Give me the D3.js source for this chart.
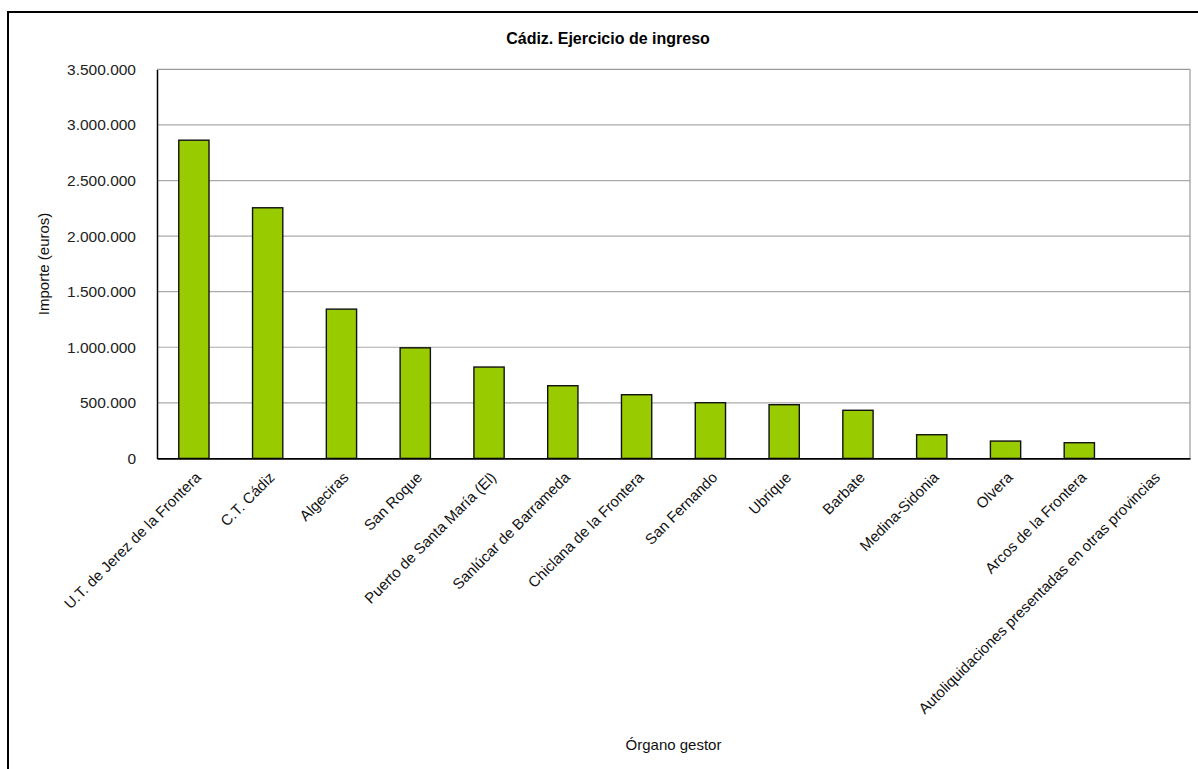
<!DOCTYPE html>
<html><head><meta charset="utf-8">
<script src="https://cdn.jsdelivr.net/npm/d3@7"></script>
<style>
html,body{margin:0;padding:0;background:#fff;}
svg{display:block;}
</style></head>
<body>
<svg id="c" width="1198" height="769"></svg>
<script>
const categories = [
  "U.T. de Jerez de la Frontera","C.T. Cádiz","Algeciras","San Roque",
  "Puerto de Santa María (El)","Sanlúcar de Barrameda","Chiclana de la Frontera",
  "San Fernando","Ubrique","Barbate","Medina-Sidonia","Olvera",
  "Arcos de la Frontera","Autoliquidaciones presentadas en otras provincias"
];
const values = [2863000,2255000,1343000,995000,822000,654000,573000,501000,483000,433000,213000,156000,141000,0];
const yTicks = [0,500000,1000000,1500000,2000000,2500000,3000000,3500000];
const title = "Cádiz. Ejercicio de ingreso";
const xTitle = "Órgano gestor";
const yTitle = "Importe (euros)";

const svg = d3.select("#c");
const L = 157, R = 1190, T = 69.4, B = 458.4;
const narrow = "'Liberation Sans Narrow','Arial Narrow',sans-serif";
const fmt = v => d3.format(",")(v).replace(/,/g,".");

// outer border
svg.append("path").attr("d","M8,769 L8,12 L1198,12").attr("fill","none").attr("stroke","#000").attr("stroke-width",2);

const x = d3.scaleBand().domain(categories).range([L,R]).paddingInner(0.59).paddingOuter(0.295);
const y = d3.scaleLinear().domain([0,3500000]).range([B,T]);

// gridlines
svg.append("g").selectAll("line").data(yTicks.filter(d=>d>0)).join("line")
  .attr("x1",L).attr("x2",R).attr("y1",d=>y(d)).attr("y2",d=>y(d))
  .attr("stroke",d=>d===3500000?"#999":"#aaa").attr("stroke-width",1.2);
// plot frame sides
svg.append("line").attr("x1",R).attr("x2",R).attr("y1",T).attr("y2",B).attr("stroke","#999").attr("stroke-width",1.2);

// bars
svg.append("g").selectAll("rect").data(values).join("rect")
  .attr("x",(d,i)=>x(categories[i])).attr("width",x.bandwidth())
  .attr("y",d=>y(d)).attr("height",d=>B-y(d))
  .attr("fill","#99cc00").attr("stroke","#111").attr("stroke-width",1.4)
  .style("display",d=>d>0?null:"none");

// y axis
const ya = svg.append("g").attr("transform",`translate(${L},0)`)
  .call(d3.axisLeft(y).tickValues(yTicks).tickFormat(fmt).tickSize(0).tickPadding(21));
ya.select(".domain").attr("stroke","#000").attr("stroke-width",1.5);
ya.selectAll("text").attr("font-family","'Liberation Sans',Arial,sans-serif").attr("font-size","15.5px").attr("fill","#222");

// x axis
const xa = svg.append("g").attr("transform",`translate(0,${B})`)
  .call(d3.axisBottom(x).tickSize(0).tickPadding(0));
xa.select(".domain").attr("stroke","#000").attr("stroke-width",1.8);
xa.selectAll("text")
  .attr("font-family",narrow).attr("font-size","15px").attr("fill","#111")
  .attr("text-anchor","end").attr("dy",0)
  .attr("transform","translate(8,20) rotate(-45)");

// titles
svg.append("text").attr("x",608).attr("y",44).attr("text-anchor","middle")
  .attr("font-family",narrow).attr("font-weight","bold").attr("font-size","16px").text(title);
svg.append("text").attr("x",(L+R)/2).attr("y",750).attr("text-anchor","middle")
  .attr("font-family",narrow).attr("font-size","15px").attr("fill","#111").text(xTitle);
svg.append("text").attr("transform",`translate(49,${(T+B)/2}) rotate(-90)`).attr("text-anchor","middle")
  .attr("font-family",narrow).attr("font-size","15px").attr("fill","#111").text(yTitle);
</script>
</body></html>
